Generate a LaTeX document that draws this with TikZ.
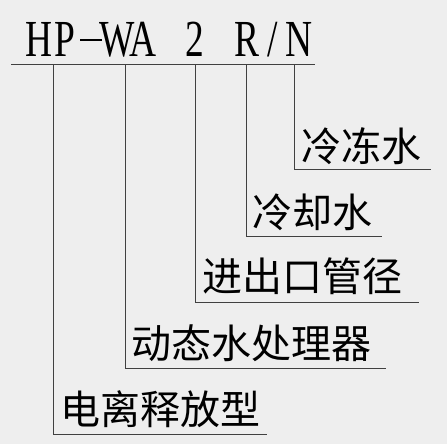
\documentclass[tikz,border=0pt]{standalone}
\usepackage{fontspec}
\setmainfont{Liberation Serif}
\newfontfamily\cjk{Noto Sans CJK SC}
\definecolor{bgc}{HTML}{EEEEEE}
\definecolor{lnc}{HTML}{404040}
\newcommand\mc[1]{\makebox[26pt]{\scalebox{0.72}[1]{#1}}}
\newcommand\mdash{\makebox[26pt]{\rule[16pt]{22pt}{1.6pt}}}
\begin{document}
\begin{tikzpicture}[x=1pt,y=-1pt,
  lbl/.style={anchor=base west,inner sep=0pt,font=\cjk\fontsize{40}{40}\selectfont,text=black},
  ttl/.style={anchor=base west,inner sep=0pt,font=\fontsize{52}{52}\selectfont,text=black},
  lead/.style={draw=lnc,line width=1pt}]
\fill[bgc] (0,0) rectangle (447,444);
\useasboundingbox (0,0) rectangle (447,444);
% title
\node[ttl] (title) at (26,57) {\mc{H}\mc{P}\mdash\mc{W}\mc{A}\mc{ }\mc{2}\mc{ }\mc{R}\mc{/}\mc{N}};
% labels
\node[lbl] (e) at (301,161) {冷冻水};
\node[lbl] (d) at (252,227) {冷却水};
\node[lbl] (c) at (202,291) {进出口管径};
\node[lbl] (b) at (131,358) {动态水处理器};
\node[lbl] (a) at (60,424) {电离释放型};
% coordinates
\coordinate (L) at (11,65);
\coordinate (R) at (315,65);
\coordinate (ta) at (53,65);   \coordinate (ea) at (267,434);
\coordinate (tb) at (125.5,65);\coordinate (eb) at (386,368);
\coordinate (tc) at (195.5,65);\coordinate (ec) at (419,302);
\coordinate (td) at (246,65);  \coordinate (ed) at (382,236);
\coordinate (te) at (294,65);  \coordinate (ee) at (431,169.5);
\draw[lead] (L) -- (R);
\draw[lead] (ta) |- (ea);
\draw[lead] (tb) |- (eb);
\draw[lead] (tc) |- (ec);
\draw[lead] (td) |- (ed);
\draw[lead] (te) |- (ee);
\end{tikzpicture}
\end{document}
